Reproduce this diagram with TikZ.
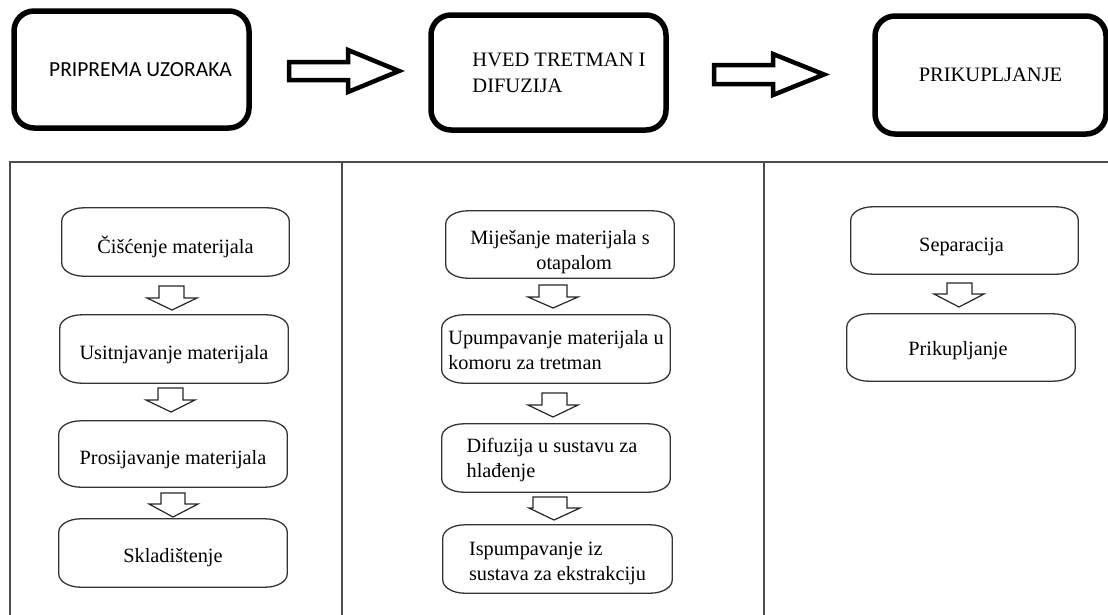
\documentclass[tikz,border=0pt]{standalone}
\usepackage{fontspec}
\setmainfont{Liberation Serif}
\newfontfamily\calfont{Carlito}
\begin{document}
\begin{tikzpicture}[x=1pt,y=-1pt,
  topbox/.style={draw, line width=5.5pt, rounded corners=20pt, inner sep=0pt, align=left},
  bigarrow/.style={draw, line width=4.5pt, line join=miter},
  proc/.style={inner sep=0pt, minimum width=228pt, minimum height=68pt},
  ptext/.style={inner sep=0pt, align=left, font=\fontsize{20.3}{25}\selectfont},
  procline/.style={draw=black!80, line width=1.3pt},
  smallarrow/.style={draw=black!85, line width=1.2pt, line join=miter},
  gridline/.style={draw=black!70, line width=1.6pt}]
\useasboundingbox (0,0) rectangle (1108,614);

% table lines
\coordinate (tl) at (10,162);
\coordinate (tr) at (1110,162);
\coordinate (v1t) at (342,162);
\coordinate (v2t) at (764,162);
\coordinate (lb) at (10,616);
\coordinate (v1b) at (342,616);
\coordinate (v2b) at (764,616);
\draw[gridline] (lb) -- (tl) -- (tr);
\draw[gridline] (v1t) -- (v1b);
\draw[gridline] (v2t) -- (v2b);

% top boxes
\node[topbox, minimum width=235pt, minimum height=117pt, font=\calfont\fontsize{21.5}{26}\selectfont]
  (b1) at (131.5,69.5) {\hspace*{18pt}PRIPREMA UZORAKA};
\node[topbox, minimum width=235pt, minimum height=115pt, font=\fontsize{20.5}{26}\selectfont]
  (b2) at (548.5,72.5) {\hspace*{21pt}HVED TRETMAN I\\\hspace*{21pt}DIFUZIJA};
\node[topbox, minimum width=231pt, minimum height=118pt, font=\fontsize{20.5}{26}\selectfont]
  (b3) at (990.5,75) {PRIKUPLJANJE};

% big block arrows
\draw[bigarrow] (289,62) -- (348,62) -- (348,50) -- (399,71) -- (348,92) -- (348,80) -- (289,80) -- cycle;
\draw[bigarrow] (714,65) -- (773,65) -- (773,54) -- (824,74.5) -- (773,95) -- (773,84) -- (714,84) -- cycle;

% process boxes (outline nodes with their text as centred labels)
\node[proc, minimum width=227pt, label={[ptext, name=c1t, yshift=-5pt]center:{Čišćenje materijala}}] (c1) at (175.5,242) {};
\node[proc, label={[ptext, name=c2t, yshift=-6pt]center:{Usitnjavanje materijala}}] (c2) at (174,349) {};
\node[proc, minimum height=66pt, label={[ptext, name=c3t, yshift=-6pt]center:{Prosijavanje materijala}}] (c3) at (173,454) {};
\node[proc, label={[ptext, name=c4t, yshift=-5pt]center:{Skladištenje}}] (c4) at (173,553) {};

\node[proc, minimum height=67pt, label={[ptext, name=m1t, yshift=-8pt]center:{Miješanje materijala s\\\hspace*{66pt}otapalom}}] (m1) at (560,244.5) {};
\node[proc, label={[ptext, name=m2t, yshift=-1pt]center:{Upumpavanje materijala u\\komoru za tretman}}] (m2) at (556,349) {};
\node[proc, label={[ptext, name=m3t, yshift=-2pt, xshift=-4pt]center:{Difuzija u sustavu za\\hlađenje}}] (m3) at (556,458) {};
\node[proc, minimum width=229pt, label={[ptext, name=m4t, yshift=-4pt]center:{Ispumpavanje iz\\sustava za ekstrakciju}}] (m4) at (557.5,559) {};

\node[proc, minimum width=227pt, minimum height=67pt, label={[ptext, name=r1t, yshift=-6pt, xshift=-3pt]center:{Separacija}}] (r1) at (964.5,240.5) {};
\node[proc, minimum height=67pt, label={[ptext, name=r2t, yshift=-3pt, xshift=-3pt]center:{Prikupljanje}}] (r2) at (961,347.5) {};

\foreach \n in {c1,c2,c3,c4,m1,m2,m3,m4,r1,r2}{
  \draw[procline] ([xshift=22pt]\n.north west) -- ([xshift=-22pt]\n.north east)
    arc[start angle=90, end angle=0, x radius=22pt, y radius=13pt]
    -- ([yshift=13pt]\n.south east)
    arc[start angle=0, end angle=-90, x radius=22pt, y radius=13pt]
    -- ([xshift=22pt]\n.south west)
    arc[start angle=270, end angle=180, x radius=22pt, y radius=13pt]
    -- ([yshift=-13pt]\n.north west)
    arc[start angle=180, end angle=90, x radius=22pt, y radius=13pt] -- cycle;
}

% small down arrows
\draw[smallarrow] (159,286) -- (184,286) -- (184,298) -- (197,298) -- (172,310) -- (147,298) -- (159,298) -- cycle;
\draw[smallarrow] (158,388) -- (183,388) -- (183,400) -- (195,400) -- (171,412) -- (146,400) -- (158,400) -- cycle;
\draw[smallarrow] (161,493) -- (185,493) -- (185,504) -- (198,504) -- (173,517) -- (149,504) -- (161,504) -- cycle;

\draw[smallarrow] (539,285) -- (567,285) -- (567,297) -- (578,297) -- (553,308) -- (528,297) -- (539,297) -- cycle;
\draw[smallarrow] (542,393) -- (567,393) -- (567,405) -- (578,405) -- (553,417) -- (528,405) -- (542,405) -- cycle;
\draw[smallarrow] (533,497) -- (567,497) -- (567,508) -- (580,508) -- (554,520) -- (529,508) -- (533,508) -- cycle;

\draw[smallarrow] (947,283) -- (972,283) -- (972,294) -- (984,294) -- (959,307) -- (934,294) -- (947,294) -- cycle;
\end{tikzpicture}
\end{document}
